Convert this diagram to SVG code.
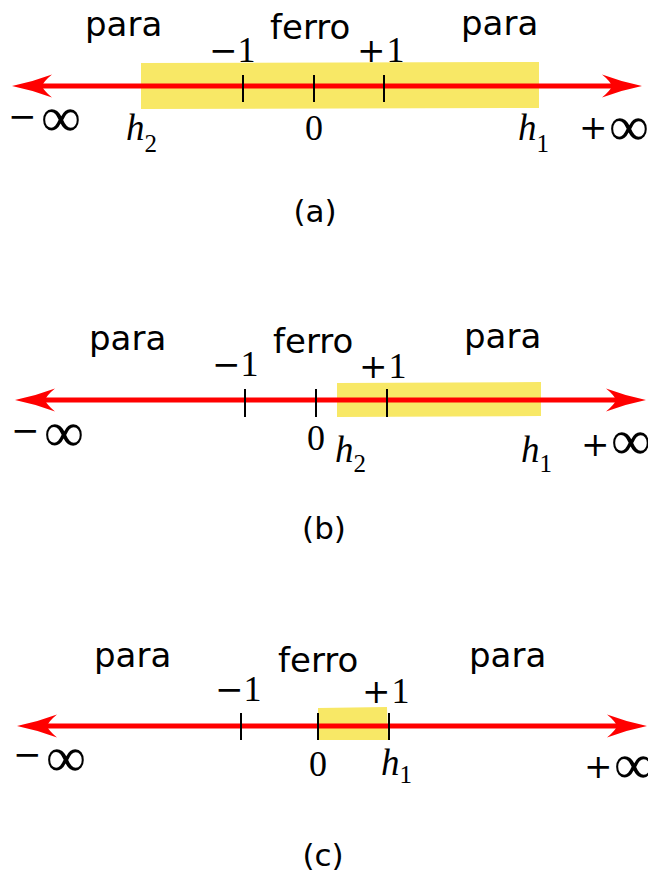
<svg xmlns="http://www.w3.org/2000/svg" width="648" height="872" viewBox="0 0 648 872">
<style>
.lbl{font-family:"DejaVu Sans",sans-serif;font-size:34px;fill:#000}
.cap{font-family:"DejaVu Sans",sans-serif;font-size:31px;fill:#000;text-anchor:middle}
.m{font-family:"Liberation Serif",serif;font-size:36px;fill:#000}
.op{font-family:"DejaVu Serif",serif;font-size:34px}
.d{font-family:"Liberation Serif",serif;font-size:36px}
.inf{font-family:"Liberation Serif",serif;font-size:56px}
.mi{font-family:"Liberation Serif",serif;font-size:37px;font-style:italic;fill:#000}
.sub{font-size:25px;font-style:normal}
.band{fill:#f8e866}
.axis{stroke:#ff0000;stroke-width:5;fill:none}
.tick{stroke:#000;stroke-width:2}
</style>
<defs>
<marker id="ah" markerUnits="userSpaceOnUse" viewBox="-12 -13 44 26" refX="0" refY="0" markerWidth="44" markerHeight="26" orient="auto-start-reverse">
<path d="M30,0 Q10,-4 -10,-11.5 Q-2,-5 0,0 Q-2,5 -10,11.5 Q10,4 30,0 Z" fill="#ff0000"/>
</marker>
</defs>

<g id="panel-a">
<polygon class="band" points="141,63 539,62 539,108 141,109"/>
<text class="lbl" x="85" y="36">para</text>
<text class="lbl" x="270" y="39">ferro</text>
<text class="lbl" x="461" y="35">para</text>
<text class="m" x="209" y="62"><tspan class="op">−</tspan><tspan class="d" dx="0">1</tspan></text>
<text class="m" x="357" y="62"><tspan class="op">+</tspan><tspan class="d" dx="1">1</tspan></text>
<text class="m" x="305" y="140">0</text>
<text class="mi" x="126" y="140">h<tspan class="sub" dy="12">2</tspan></text>
<text class="mi" x="518" y="140">h<tspan class="sub" dy="12">1</tspan></text>
<text class="m" x="8" y="128"><tspan class="op">−</tspan><tspan class="inf" x="41" y="136">∞</tspan></text>
<text class="m" x="579" y="139"><tspan class="op">+</tspan><tspan class="inf" x="609" y="145">∞</tspan></text>
<text class="cap" x="315" y="222">(a)</text>
</g>

<g id="panel-b">
<polygon class="band" points="337,383 541,382 541,416 337,417"/>
<text class="lbl" x="89" y="350">para</text>
<text class="lbl" x="273" y="353">ferro</text>
<text class="lbl" x="464" y="348">para</text>
<text class="m" x="212" y="376"><tspan class="op">−</tspan><tspan class="d" dx="0">1</tspan></text>
<text class="m" x="359" y="378"><tspan class="op">+</tspan><tspan class="d" dx="1">1</tspan></text>
<text class="m" x="307" y="450">0</text>
<text class="mi" x="335" y="462">h<tspan class="sub" dy="10">2</tspan></text>
<text class="mi" x="521" y="462">h<tspan class="sub" dy="10">1</tspan></text>
<text class="m" x="11" y="442"><tspan class="op">−</tspan><tspan class="inf" x="44" y="451">∞</tspan></text>
<text class="m" x="581" y="456"><tspan class="op">+</tspan><tspan class="inf" x="611" y="459">∞</tspan></text>
<text class="cap" x="324" y="539">(b)</text>
</g>

<g id="panel-c">
<polygon class="band" points="318,708 387,707 388,740 318,740"/>
<text class="lbl" x="94" y="667">para</text>
<text class="lbl" x="278" y="672">ferro</text>
<text class="lbl" x="469" y="667">para</text>
<text class="m" x="215" y="701"><tspan class="op">−</tspan><tspan class="d" dx="0">1</tspan></text>
<text class="m" x="362" y="703"><tspan class="op">+</tspan><tspan class="d" dx="1">1</tspan></text>
<text class="m" x="309" y="776">0</text>
<text class="mi" x="381" y="775">h<tspan class="sub" dy="8">1</tspan></text>
<text class="m" x="13" y="766"><tspan class="op">−</tspan><tspan class="inf" x="46" y="776">∞</tspan></text>
<text class="m" x="584" y="778"><tspan class="op">+</tspan><tspan class="inf" x="614" y="783">∞</tspan></text>
<text class="cap" x="323" y="866">(c)</text>
</g>

<g id="connectors">
<line class="axis" x1="42" y1="86" x2="612" y2="86" marker-start="url(#ah)" marker-end="url(#ah)"/>
<line class="tick" x1="243" y1="75" x2="243" y2="102"/>
<line class="tick" x1="314" y1="75" x2="314" y2="102"/>
<line class="tick" x1="384" y1="75" x2="384" y2="102"/>

<line class="axis" x1="45" y1="400" x2="616" y2="400" marker-start="url(#ah)" marker-end="url(#ah)"/>
<line class="tick" x1="245" y1="389" x2="245" y2="417"/>
<line class="tick" x1="316" y1="389" x2="316" y2="417"/>
<line class="tick" x1="387" y1="389" x2="387" y2="417"/>

<line class="axis" x1="47" y1="726" x2="617" y2="726" marker-start="url(#ah)" marker-end="url(#ah)"/>
<line class="tick" x1="241" y1="713" x2="241" y2="740"/>
<line class="tick" x1="318" y1="713" x2="318" y2="740"/>
<line class="tick" x1="389" y1="713" x2="389" y2="740"/>
</g>
</svg>
